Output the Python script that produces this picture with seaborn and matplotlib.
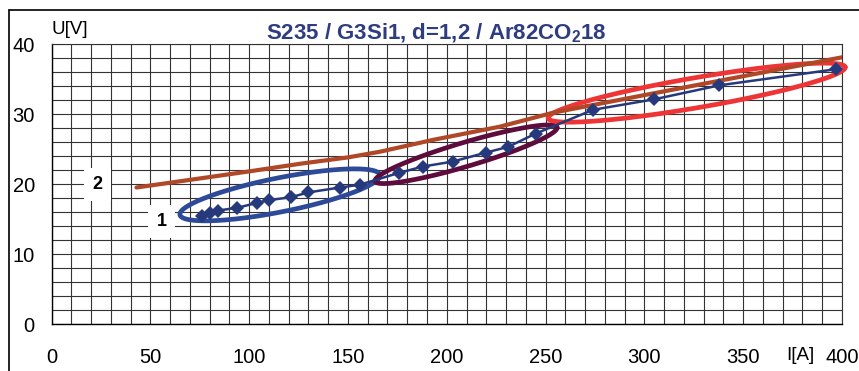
import numpy as np
import pandas as pd
import matplotlib
matplotlib.use("Agg")
import matplotlib.pyplot as plt
import seaborn as sns

# ---- data ----
current_1 = [76, 80, 84, 94, 104, 110, 121, 130, 146, 156,
             176, 188, 203, 220, 231, 245, 274, 305, 338, 397]
voltage_1 = [15.4, 15.8, 16.2, 16.6, 17.3, 17.7, 18.1, 18.8, 19.5, 19.9,
             21.6, 22.5, 23.2, 24.5, 25.3, 27.2, 30.6, 32.1, 34.1, 36.4]

current_2 = [43, 100, 126, 150, 166, 193, 227, 254, 300, 350, 400]
voltage_2 = [19.5, 21.8, 22.9, 23.8, 24.6, 26.3, 28.2, 30.2, 32.7, 35.4, 38.1]

x_ticks = [0, 50, 100, 150, 200, 250, 300, 350, 400]
y_ticks = [0, 10, 20, 30, 40]

title = "S235 / G3Si1, d=1,2 / Ar82CO$_\\mathregular{2}$18"
x_label = "I[A]"
y_label = "U[V]"

# annotation ellipses: major-axis ends in data units (I, U)
ellipse_ends = [((65.0, 15.6), (166.2, 21.3)),
                ((163.7, 20.4), (255.8, 28.1)),
                ((251.3, 29.4), (401.6, 36.7))]
ellipse_half_width_px = [17, 12, 15]
ellipse_colors = ["#2d4a98", "#5e0c3c", "#ee3434"]
labels = [("2", 23.3, 19.9), ("1", 55.6, 14.6)]

# ---- drawing ----
sns.set_theme(style="white")
plt.rcParams["font.family"] = ["Liberation Sans", "DejaVu Sans"]

fig = plt.figure(figsize=(8.59, 3.71), dpi=100)
ax = fig.add_axes([51.5 / 859, 1 - 324 / 371, (842 - 51.5) / 859, (324 - 44) / 371])
ax.set_xlim(0, 400)
ax.set_ylim(0, 40)

df1 = pd.DataFrame({"I": current_1, "U": voltage_1})
df2 = pd.DataFrame({"I": current_2, "U": voltage_2})

t = np.linspace(0, 2 * np.pi, 400)
inv = ax.transData.inverted()
for (p1, p2), w, col in zip(ellipse_ends, ellipse_half_width_px, ellipse_colors):
    d1 = ax.transData.transform(p1)
    d2 = ax.transData.transform(p2)
    c = (d1 + d2) / 2
    a_vec = (d2 - d1) / 2
    n = np.array([-a_vec[1], a_vec[0]]) / np.hypot(*a_vec) * w
    pts = c + np.outer(np.cos(t), a_vec) + np.outer(np.sin(t), n)
    dpts = inv.transform(pts)
    ax.plot(dpts[:, 0], dpts[:, 1], color=col, lw=3.4, zorder=3, clip_on=False)

sns.lineplot(data=df2, x="I", y="U", ax=ax, color="#b04828", lw=3.0,
             zorder=4, sort=False)
sns.lineplot(data=df1, x="I", y="U", ax=ax, color="#25397c", lw=1.8,
             marker="D", markersize=7, markeredgewidth=0,
             markerfacecolor="#25397c", zorder=5, sort=False)

for txt, xx, yy in labels:
    ax.text(xx, yy, txt, ha="center", va="center", fontsize=13,
            fontweight="bold", color="black", zorder=6,
            bbox=dict(boxstyle="square,pad=0.45", fc="white", ec="none"))

ax.set_xticks(x_ticks)
ax.set_yticks(y_ticks)
ax.set_xticks(np.arange(0, 401, 10), minor=True)
ax.set_yticks(np.arange(0, 41, 2), minor=True)
ax.grid(which="both", color="#333333", lw=0.8, zorder=0)
ax.set_axisbelow(True)
ax.tick_params(axis="both", which="major", direction="out", length=6,
               width=1, color="black", labelsize=14.5, labelcolor="black")
ax.tick_params(axis="x", which="major", pad=11)
ax.tick_params(axis="y", which="major", pad=6)
ax.tick_params(which="minor", length=0)
for s in ["left", "bottom"]:
    ax.spines[s].set_color("black")
    ax.spines[s].set_linewidth(1.0)
for s in ["top", "right"]:
    ax.spines[s].set_color("#333333")
    ax.spines[s].set_linewidth(0.8)
ax.set_xlabel("")
ax.set_ylabel("")

fig.text(70 / 859, 1 - 29 / 371, y_label, ha="center", va="center",
         fontsize=13.5, color="black")
fig.text(800 / 859, 1 - 355 / 371, x_label, ha="center", va="center",
         fontsize=13.5, color="black")
fig.text(436 / 859, 1 - 33 / 371, title, ha="center", va="center",
         fontsize=16, fontweight="bold", color="#2e3d80")

# outer frame of the chart area (top and left edges)
fig.add_artist(plt.Line2D([9 / 859, 9 / 859], [0, 1 - 10 / 371],
                          transform=fig.transFigure, color="black", lw=1.2))
fig.add_artist(plt.Line2D([9 / 859, 1], [1 - 10 / 371, 1 - 10 / 371],
                          transform=fig.transFigure, color="black", lw=1.2))

fig.savefig("out.png", dpi=100)
